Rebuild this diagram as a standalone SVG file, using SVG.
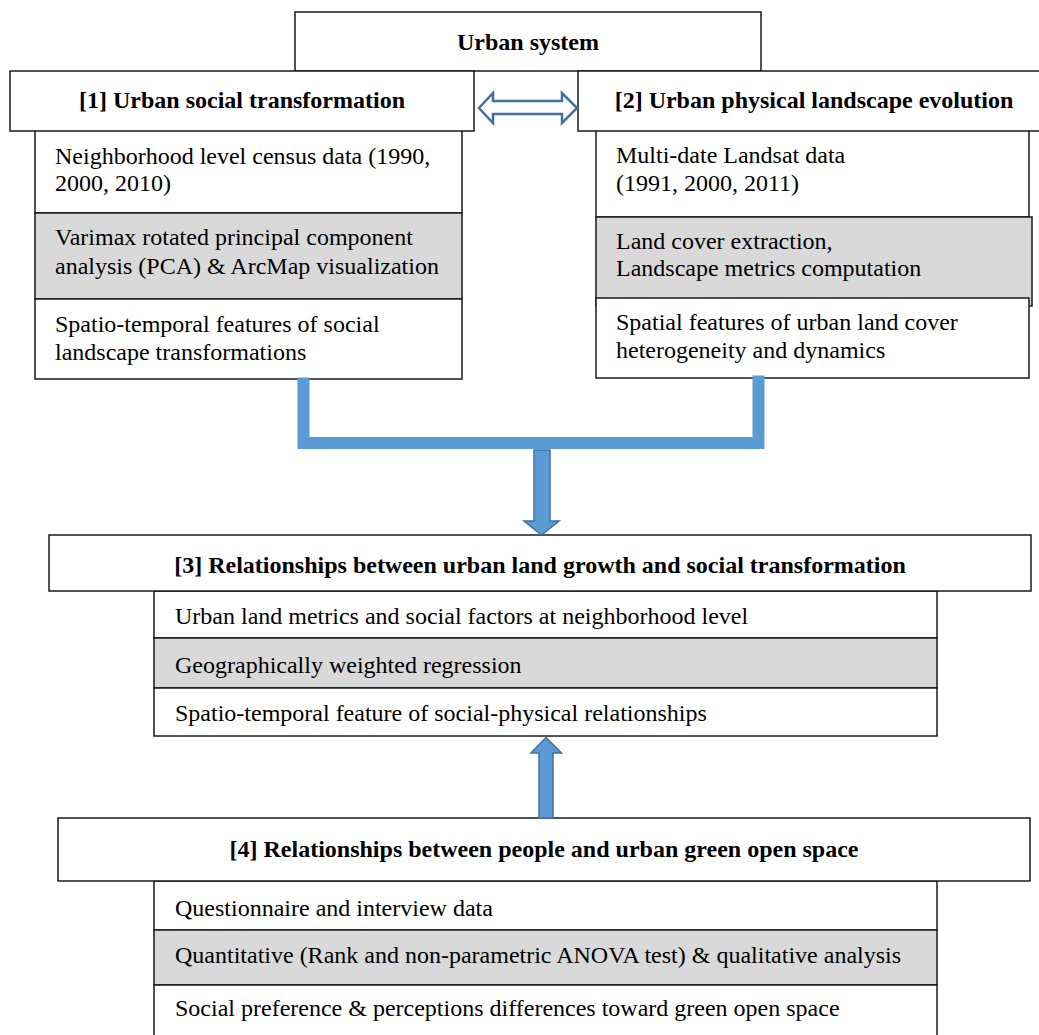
<svg xmlns="http://www.w3.org/2000/svg" width="1039" height="1035" viewBox="0 0 1039 1035">
  <style>
    .box { fill: #ffffff; stroke: #1a1a1a; stroke-width: 1.5; }
    .shade { fill: #d9d9d9; stroke: #1a1a1a; stroke-width: 1.5; }
    .head { font-family: "Liberation Serif", "Times New Roman", serif; font-size: 24px; font-weight: bold; fill: #000; text-anchor: middle; }
    .body { font-family: "Liberation Serif", "Times New Roman", serif; font-size: 24px; fill: #000; }
    .flow { fill: none; stroke: #5b9bd5; stroke-width: 12; stroke-linejoin: miter; stroke-linecap: butt; }
    .block-arrow { fill: #5b9bd5; stroke: #41719c; stroke-width: 1.5; }
    .link-arrow { fill: #ffffff; stroke: #41719c; stroke-width: 2.5; stroke-linejoin: miter; }
  </style>

  <rect width="1039" height="1035" fill="#ffffff"/>

  <!-- Top-level system box -->
  <g id="urban-system">
    <rect class="box" x="295" y="12" width="466" height="59"/>
    <text class="head" x="528" y="50">Urban system</text>
  </g>

  <!-- [1] Social transformation branch -->
  <g id="social-transformation">
    <rect class="box" x="35" y="130" width="427" height="83"/>
    <text class="body" x="55" y="164">Neighborhood level census data (1990,</text>
    <text class="body" x="55" y="191">2000, 2010)</text>
    <rect class="shade" x="35" y="213" width="427" height="86"/>
    <text class="body" x="55" y="245">Varimax rotated principal component</text>
    <text class="body" x="55" y="274">analysis (PCA) &amp; ArcMap visualization</text>
    <rect class="box" x="35" y="299" width="427" height="80"/>
    <text class="body" x="55" y="332">Spatio-temporal features of social</text>
    <text class="body" x="55" y="360">landscape transformations</text>
    <rect class="box" x="10" y="71" width="464" height="60"/>
    <text class="head" x="242" y="108">[1] Urban social transformation</text>
  </g>

  <!-- [2] Physical landscape branch -->
  <g id="physical-landscape">
    <rect class="box" x="596" y="130" width="433" height="87"/>
    <text class="body" x="616" y="163">Multi-date Landsat data</text>
    <text class="body" x="616" y="191">(1991, 2000, 2011)</text>
    <rect class="shade" x="596" y="217" width="436" height="89"/>
    <text class="body" x="616" y="249">Land cover extraction,</text>
    <text class="body" x="616" y="276">Landscape metrics computation</text>
    <rect class="box" x="596" y="298" width="433" height="80"/>
    <text class="body" x="616" y="330">Spatial features of urban land cover</text>
    <text class="body" x="616" y="358">heterogeneity and dynamics</text>
    <rect class="box" x="578" y="71" width="472" height="60"/>
    <text class="head" x="814" y="108">[2] Urban physical landscape evolution</text>
  </g>

  <!-- [3] Land growth / social transformation relationships -->
  <g id="land-social-relationships">
    <rect class="box" x="154" y="591" width="783" height="47"/>
    <text class="body" x="175" y="624">Urban land metrics and social factors at neighborhood level</text>
    <rect class="shade" x="154" y="638" width="783" height="50"/>
    <text class="body" x="175" y="673">Geographically weighted regression</text>
    <rect class="box" x="154" y="688" width="783" height="48"/>
    <text class="body" x="175" y="721">Spatio-temporal feature of social-physical relationships</text>
    <rect class="box" x="49" y="535" width="982" height="56"/>
    <text class="head" x="540" y="573">[3] Relationships between urban land growth and social transformation</text>
  </g>

  <!-- [4] People / green open space relationships -->
  <g id="people-green-space">
    <rect class="box" x="154" y="881" width="783" height="49"/>
    <text class="body" x="175" y="916">Questionnaire and interview data</text>
    <rect class="shade" x="154" y="930" width="783" height="55"/>
    <text class="body" x="175" y="963">Quantitative (Rank and non-parametric ANOVA test) &amp; qualitative analysis</text>
    <rect class="box" x="154" y="985" width="783" height="60"/>
    <text class="body" x="175" y="1016">Social preference &amp; perceptions differences toward green open space</text>
    <rect class="box" x="58" y="818" width="972" height="63"/>
    <text class="head" x="544" y="857">[4] Relationships between people and urban green open space</text>
  </g>

  <!-- Connectors -->
  <g id="connectors">
    <!-- two-way link between [1] and [2] -->
    <polygon class="link-arrow" points="479,108 493,93 493,101 562,101 562,93 577,108 562,123 562,114 493,114 493,123"/>
    <!-- merge of [1] and [2] outputs -->
    <path class="flow" d="M303.5 377.5 V443 H758.5 V375.5"/>
    <!-- down into [3] -->
    <polygon class="block-arrow" points="534,450 550,450 550,521 559,521 541.5,535 524,521 534,521"/>
    <!-- up from [4] into [3] -->
    <polygon class="block-arrow" points="546,737.5 561.5,753 553,753 553,818 539,818 539,753 531,753"/>
  </g>
</svg>
